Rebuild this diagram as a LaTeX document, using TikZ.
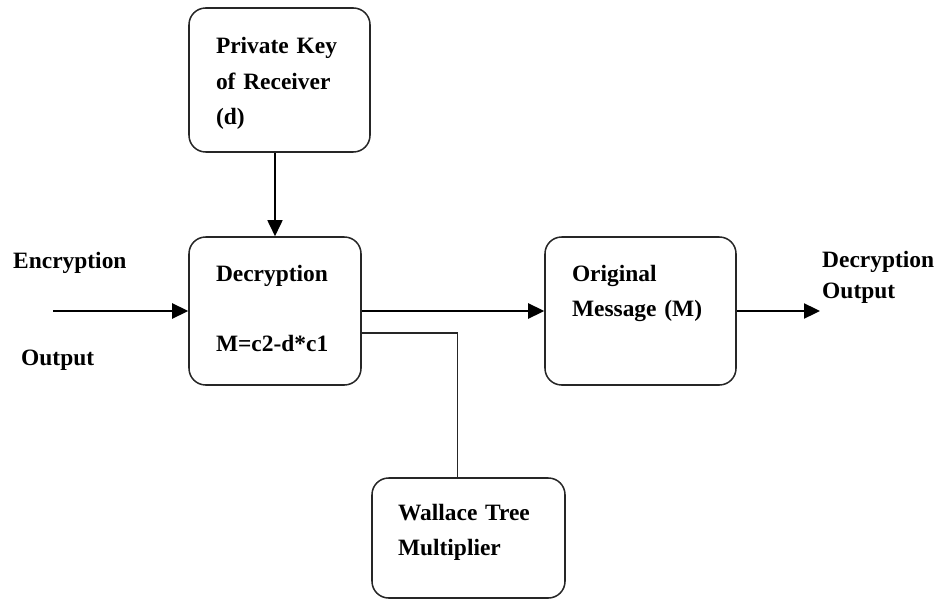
\documentclass[tikz,border=0pt]{standalone}
\usepackage{fontspec}
\setmainfont{Liberation Serif}
\usepackage{tikz}
\usetikzlibrary{arrows.meta,calc}

\begin{document}
\begin{tikzpicture}[
    block/.style={rectangle, rounded corners=0.5cm, draw=black!85, line width=1.3pt, align=left, inner sep=0pt, text height=0.3cm, font=\fontsize{20pt}{30pt}\selectfont\bfseries},
    plain/.style={inner sep=0pt, anchor=base west, font=\fontsize{20pt}{27pt}\selectfont\bfseries},
    arrow/.style={-{Triangle[length=0.48cm, width=0.45cm]}, line width=2pt, color=black},
    link/.style={line width=1.1pt, color=black!85}
]
    \useasboundingbox (0,0) rectangle (28.26,18);

    % Key
    \node[block, minimum width=5.43cm, minimum height=4.32cm, text width=3.81cm, text depth=1.86cm] (key) at (8.385,15.6) {Private Key\\of Receiver\\(d)};

    % Decryption
    \node[block, minimum width=5.16cm, minimum height=4.44cm, text width=3.54cm, text depth=2.1cm] (dec) at (8.25,8.67) {Decryption\\[30pt]M=c2-d*c1};

    % Result
    \node[block, minimum width=5.73cm, minimum height=4.44cm, text width=4.11cm, text depth=2.1cm] (orig) at (19.215,8.67) {Original\\Message (M)};

    % Multiplier
    \node[block, minimum width=5.79cm, minimum height=3.6cm, text width=4.23cm, text depth=1.38cm] (wal) at (14.055,1.86) {Wallace Tree\\Multiplier};

    % Labels
    \node[plain] (enc) at (0.39,9.96) {Encryption};
    \node[plain] (encout) at (0.63,7.05) {Output};
    \node[plain, text width=3.5cm, align=left] (decout) at (24.66,9.99) {Decryption\\Output};

    \coordinate (inp) at (1.59,8.67);
    \coordinate (outp) at (24.6,8.67);

    \draw[arrow] (inp) -- (dec.west);
    \draw[arrow, line width=1.4pt] (dec.north |- key.south) -- (dec.north);
    \draw[arrow] (dec.east) -- (orig.west);
    \draw[arrow] (orig.east) -- (outp);
    \draw[link] ([yshift=-0.66cm]dec.east) -| ([xshift=-0.32cm]wal.north);
\end{tikzpicture}
\end{document}
